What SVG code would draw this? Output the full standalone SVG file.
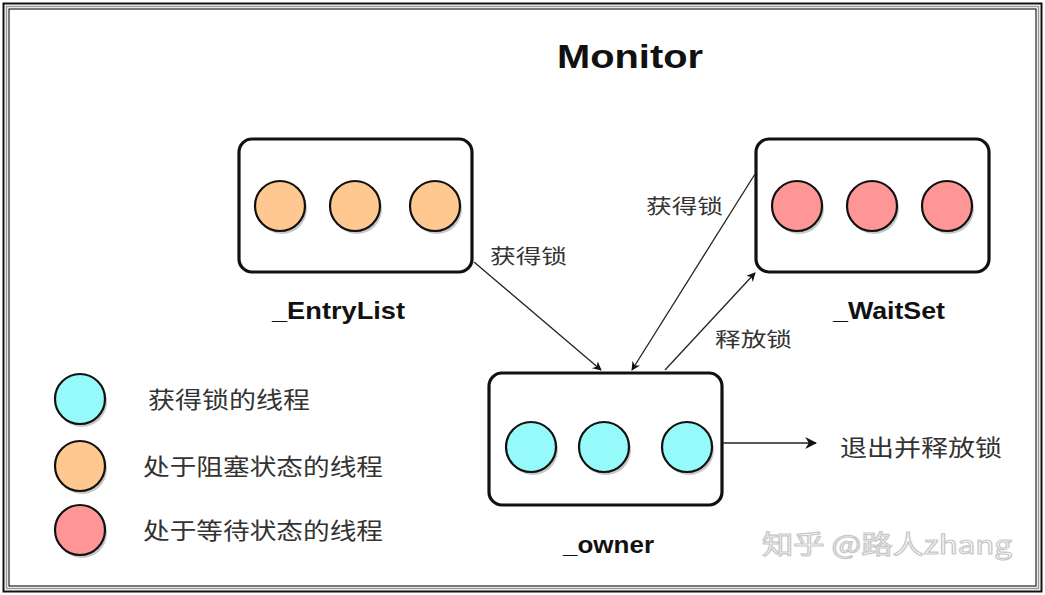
<svg xmlns="http://www.w3.org/2000/svg" width="1045" height="595" viewBox="0 0 1045 595">
<defs>
<style>
.box{fill:#fff;stroke:#111;stroke-width:3.2;}
.c{stroke:#111;stroke-width:2.2;}
.sh{fill:#c8c8c8;}
.or{fill:#FFC891;}
.rd{fill:#FF9696;}
.cy{fill:#96FAFA;}
.lbl{font-family:"Liberation Sans",Arial,sans-serif;font-weight:bold;font-size:24px;fill:#111;}
.t{font-family:"Noto Sans CJK SC","Liberation Sans",sans-serif;font-size:20px;fill:#333;}
.tl{font-family:"Noto Sans CJK SC","Liberation Sans",sans-serif;font-size:23px;fill:#333;}
.ln{stroke:#222;stroke-width:1.3;fill:none;}
</style>
<marker id="ah" viewBox="0 0 10 10" refX="9" refY="5" markerWidth="9" markerHeight="9" markerUnits="userSpaceOnUse" orient="auto">
<path d="M0,0 L10,5 L0,10 L3,5 Z" fill="#111"/>
</marker>
<marker id="ahb" viewBox="0 0 10 10" refX="9" refY="5" markerWidth="12" markerHeight="12" markerUnits="userSpaceOnUse" orient="auto">
<path d="M0,0 L10,5 L0,10 L3,5 Z" fill="#111"/>
</marker>
</defs>
<rect x="0" y="0" width="1045" height="595" fill="#fff"/>
<g id="frame" fill="none">
<rect x="3.5" y="3.5" width="1038" height="588" stroke="#111" stroke-width="2"/>
<rect x="6.5" y="6.5" width="1032" height="582" stroke="#999" stroke-width="1.5"/>
<rect x="9" y="9" width="1027" height="577" stroke="#222" stroke-width="1.2"/>
</g>
<text x="557" y="68" font-family="Liberation Sans,Arial,sans-serif" font-weight="bold" font-size="34" fill="#111" textLength="146" lengthAdjust="spacingAndGlyphs">Monitor</text>

<g id="entrylist">
<rect class="box" x="239" y="139" width="233" height="133" rx="13"/>
<circle class="sh" cx="282" cy="209" r="25"/><circle class="c or" cx="280" cy="206" r="25"/>
<circle class="sh" cx="357" cy="209" r="25"/><circle class="c or" cx="355" cy="206" r="25"/>
<circle class="sh" cx="437" cy="209" r="25"/><circle class="c or" cx="435" cy="206" r="25"/>
<text class="lbl" x="272" y="319" textLength="133" lengthAdjust="spacingAndGlyphs">_EntryList</text>
</g>

<g id="waitset">
<rect class="box" x="756" y="139" width="233" height="133" rx="13"/>
<circle class="sh" cx="799" cy="209" r="25"/><circle class="c rd" cx="797" cy="206" r="25"/>
<circle class="sh" cx="874" cy="209" r="25"/><circle class="c rd" cx="872" cy="206" r="25"/>
<circle class="sh" cx="949" cy="209" r="25"/><circle class="c rd" cx="947" cy="206" r="25"/>
<text class="lbl" x="833" y="319" textLength="112" lengthAdjust="spacingAndGlyphs">_WaitSet</text>
</g>

<g id="owner">
<rect class="box" x="489" y="373" width="233" height="132" rx="13"/>
<circle class="sh" cx="533" cy="450" r="25"/><circle class="c cy" cx="531" cy="447" r="25"/>
<circle class="sh" cx="606" cy="450" r="25"/><circle class="c cy" cx="604" cy="447" r="25"/>
<circle class="sh" cx="689" cy="450" r="25"/><circle class="c cy" cx="687" cy="447" r="25"/>
<text class="lbl" x="563" y="553" textLength="91" lengthAdjust="spacingAndGlyphs">_owner</text>
</g>

<g id="legend">
<circle class="sh" cx="82" cy="402" r="25"/><circle class="c cy" cx="80" cy="399" r="25"/>
<circle class="sh" cx="82" cy="469" r="25"/><circle class="c or" cx="80" cy="466" r="25"/>
<circle class="sh" cx="82" cy="533" r="25"/><circle class="c rd" cx="80" cy="530" r="25"/>
<text class="tl" x="148" y="408" textLength="162" lengthAdjust="spacingAndGlyphs">获得锁的线程</text>
<text class="tl" x="143" y="475" textLength="240" lengthAdjust="spacingAndGlyphs">处于阻塞状态的线程</text>
<text class="tl" x="143" y="539" textLength="240" lengthAdjust="spacingAndGlyphs">处于等待状态的线程</text>
</g>

<g id="connectors">
<line class="ln" x1="474" y1="262" x2="601" y2="370" marker-end="url(#ah)"/>
<line class="ln" x1="755" y1="174" x2="632" y2="370" marker-end="url(#ah)"/>
<line class="ln" x1="665" y1="370" x2="755" y2="273" marker-end="url(#ah)"/>
<line class="ln" x1="722" y1="443" x2="816" y2="443" marker-end="url(#ahb)"/>
<text class="t" x="490" y="264" textLength="77" lengthAdjust="spacingAndGlyphs">获得锁</text>
<text class="t" x="646" y="214" textLength="77" lengthAdjust="spacingAndGlyphs">获得锁</text>
<text class="t" x="715" y="347" textLength="77" lengthAdjust="spacingAndGlyphs">释放锁</text>
<text class="tl" x="840" y="456" textLength="162" lengthAdjust="spacingAndGlyphs">退出并释放锁</text>
</g>

<text x="762" y="554" font-family="Noto Sans CJK SC,Liberation Sans,sans-serif" font-size="26" fill="#fff" stroke="#c8c8c8" stroke-width="1.2" textLength="250" lengthAdjust="spacingAndGlyphs">知乎 @路人zhang</text>
</svg>
